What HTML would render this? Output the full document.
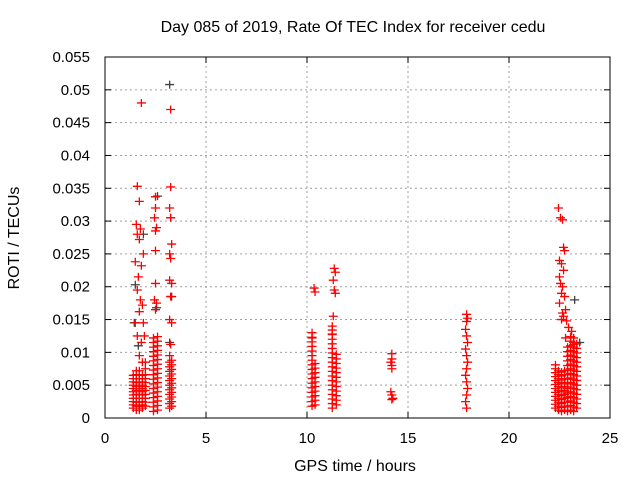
<!DOCTYPE html>
<html><head><meta charset="utf-8"><style>
body{margin:0;background:#fff}
svg{font-family:"Liberation Sans",sans-serif;font-size:15px}
</style></head><body>
<svg id="chart" width="640" height="480" xmlns="http://www.w3.org/2000/svg">
<rect width="640" height="480" fill="#fff"/>
<text x="353" y="32" text-anchor="middle" font-size="16">Day 085 of 2019, Rate Of TEC Index for receiver cedu</text>
<text x="355" y="471" text-anchor="middle" font-size="16">GPS time / hours</text>
<text transform="translate(19,238) rotate(-90)" text-anchor="middle" font-size="16">ROTI / TECUs</text>
<g id="grid"></g>
<g id="ticks"></g>
<g id="grey"></g>
<g id="pts"></g>
<rect x="105" y="57" width="505" height="361" fill="none" stroke="#000"/>
</svg>
<script>
const xTicks=[0,5,10,15,20,25];
const yTicks=[0,0.005,0.01,0.015,0.02,0.025,0.03,0.035,0.04,0.045,0.05,0.055];
const yTickLabels=["0","0.005","0.01","0.015","0.02","0.025","0.03","0.035","0.04","0.045","0.05","0.055"];
// red series: times and values
const rotiT=[
1.8,1.6,1.7,1.55,1.75,1.6,1.7,1.5,1.8,1.65,1.9,1.6,1.75,1.85,1.7,1.9,1.5,1.6,1.8,1.95,1.7,1.85,
2.5,2.5,2.45,2.55,2.5,2.5,2.5,2.45,2.55,2.5,
3.25,3.25,3.2,3.25,3.3,3.2,3.25,3.2,3.3,3.25,3.2,3.3,3.25,3.2,
10.35,10.4,
11.35,11.4,11.3,11.35,11.4,11.3,
14.2,14.2,14.15,14.2,14.2,14.15,14.2,14.25,14.2,
17.9,17.95,17.9,17.85,17.9,17.95,17.85,17.9,17.95,17.9,17.85,17.9,17.95,17.9,17.85,17.9,
22.45,22.55,22.65,22.7,22.5,22.75,22.6,22.5,22.7,22.55,22.65,22.6,22.75,22.5,22.8,22.65,22.7,22.6,22.85,22.95,23.1,22.8,
1.4,1.4,1.4,1.4,1.4,1.4,1.4,1.4,1.4,1.4,1.4,
1.55,1.55,1.55,1.55,1.55,1.55,1.55,1.55,1.55,1.55,1.55,
1.7,1.7,1.7,1.7,1.7,1.7,1.7,1.7,1.7,1.7,1.7,
1.85,1.85,1.85,1.85,1.85,1.85,1.85,1.85,1.85,1.85,1.85,
2.0,2.0,2.0,2.0,2.0,2.0,2.0,2.0,2.0,2.0,2.0,
2.4,2.4,2.4,2.4,2.4,2.4,2.4,2.4,2.4,2.4,2.4,2.4,2.4,2.4,2.4,2.4,2.4,
2.6,2.6,2.6,2.6,2.6,2.6,2.6,2.6,2.6,2.6,2.6,2.6,2.6,2.6,2.6,2.6,2.6,
3.2,3.2,3.2,3.2,3.2,3.2,3.2,3.2,3.2,3.2,3.2,
3.3,3.3,3.3,3.3,3.3,3.3,3.3,3.3,3.3,3.3,3.3,
10.25,10.25,10.25,10.25,10.25,10.25,10.25,10.25,10.25,10.25,10.25,10.25,10.25,10.25,10.25,10.25,10.25,10.25,
10.4,10.4,10.4,10.4,10.4,10.4,10.4,10.4,10.4,10.4,
11.25,11.25,11.25,11.25,11.25,11.25,11.25,11.25,11.25,11.25,11.25,11.25,11.25,11.25,11.25,11.25,11.25,11.25,11.25,11.25,
11.45,11.45,11.45,11.45,11.45,11.45,11.45,11.45,11.45,11.45,11.45,11.45,
22.3,22.3,22.3,22.3,22.3,22.3,22.3,22.3,22.3,22.3,22.3,22.3,
22.45,22.45,22.45,22.45,22.45,22.45,22.45,22.45,22.45,22.45,22.45,
22.6,22.6,22.6,22.6,22.6,22.6,22.6,22.6,22.6,22.6,22.6,
22.75,22.75,22.75,22.75,22.75,22.75,22.75,22.75,22.75,22.75,22.75,
22.9,22.9,22.9,22.9,22.9,22.9,22.9,22.9,22.9,22.9,22.9,22.9,22.9,22.9,22.9,
23.05,23.05,23.05,23.05,23.05,23.05,23.05,23.05,23.05,23.05,23.05,23.05,23.05,23.05,23.05,23.05,23.05,
23.2,23.2,23.2,23.2,23.2,23.2,23.2,23.2,23.2,23.2,23.2,23.2,23.2,23.2,23.2,23.2,23.2,23.2,
23.35,23.35,23.35,23.35,23.35,23.35,23.35,23.35,23.35,23.35,23.35,23.35,23.35,23.35,23.35
];
const rotiV=[
0.048,0.0353,0.033,0.0295,0.0288,0.028,0.0272,0.0238,0.0232,0.0215,0.025,0.0195,0.018,0.0172,0.0162,0.0145,0.0145,0.0125,0.0115,0.0125,0.0095,0.0085,
0.0337,0.032,0.0305,0.029,0.0285,0.0255,0.0205,0.018,0.0175,0.0165,
0.047,0.0352,0.032,0.0305,0.0265,0.025,0.0243,0.021,0.0205,0.0185,0.015,0.0145,0.0112,0.0095,
0.0198,0.0192,
0.0228,0.0222,0.021,0.0195,0.019,0.0155,
0.0098,0.009,0.0085,0.008,0.0075,0.004,0.0035,0.003,0.0028,
0.0158,0.0152,0.0147,0.0135,0.0125,0.0115,0.0105,0.0095,0.0085,0.0075,0.0065,0.0055,0.0045,0.0035,0.0025,0.0015,
0.032,0.0305,0.0302,0.026,0.024,0.0255,0.0235,0.0215,0.0225,0.0205,0.02,0.019,0.0185,0.0175,0.0165,0.016,0.0155,0.015,0.0148,0.0138,0.0132,0.0122,
0.0015,0.002,0.0025,0.003,0.0035,0.004,0.0045,0.005,0.0055,0.006,0.0065,
0.0012,0.0018,0.0024,0.003,0.0036,0.0042,0.0048,0.0054,0.006,0.0066,0.0072,
0.0012,0.0018,0.0024,0.003,0.0036,0.0042,0.0048,0.0054,0.006,0.0066,0.0072,
0.0015,0.002,0.0025,0.003,0.0035,0.004,0.0045,0.005,0.0055,0.006,0.0065,
0.0018,0.0024,0.003,0.0036,0.0042,0.0048,0.0054,0.006,0.0066,0.0075,0.0085,
0.001,0.0017,0.0024,0.0031,0.0038,0.0045,0.0052,0.0059,0.0066,0.0073,0.008,0.0087,0.0094,0.0101,0.0108,0.0115,0.0122,
0.0012,0.0019,0.0026,0.0033,0.004,0.0047,0.0054,0.0061,0.0068,0.0075,0.0082,0.0089,0.0096,0.0103,0.011,0.0117,0.0124,
0.0015,0.0022,0.0029,0.0036,0.0043,0.005,0.0057,0.0064,0.0071,0.0078,0.0085,
0.0018,0.0025,0.0032,0.0039,0.0046,0.0053,0.006,0.0067,0.0074,0.0081,0.0088,
0.0018,0.0025,0.0032,0.0039,0.0046,0.0053,0.006,0.0067,0.0074,0.0081,0.0088,0.0095,0.0102,0.0109,0.0116,0.0123,0.013,0.0122,
0.002,0.0027,0.0034,0.0041,0.0048,0.0055,0.0062,0.0069,0.0076,0.0083,
0.0015,0.0022,0.0029,0.0036,0.0043,0.005,0.0057,0.0064,0.0071,0.0078,0.0085,0.0092,0.0099,0.0106,0.0113,0.012,0.0127,0.0134,0.014,0.0128,
0.002,0.0027,0.0034,0.0041,0.0048,0.0055,0.0062,0.0069,0.0076,0.0083,0.009,0.0097,
0.0015,0.0021,0.0027,0.0033,0.0039,0.0045,0.0051,0.0057,0.0063,0.0069,0.0075,0.0081,
0.0012,0.0018,0.0024,0.003,0.0036,0.0042,0.0048,0.0054,0.006,0.0066,0.0072,
0.001,0.0016,0.0022,0.0028,0.0034,0.004,0.0046,0.0052,0.0058,0.0064,0.007,
0.0012,0.0018,0.0024,0.003,0.0036,0.0042,0.0048,0.0054,0.006,0.0066,0.0072,
0.001,0.0017,0.0024,0.0031,0.0038,0.0045,0.0052,0.0059,0.0066,0.0073,0.008,0.0087,0.0094,0.0101,0.0108,
0.0012,0.0019,0.0026,0.0033,0.004,0.0047,0.0054,0.0061,0.0068,0.0075,0.0082,0.0089,0.0096,0.0103,0.011,0.0117,0.0124,
0.001,0.0017,0.0024,0.0031,0.0038,0.0045,0.0052,0.0059,0.0066,0.0073,0.008,0.0087,0.0094,0.0101,0.0108,0.0115,0.0122,0.0112,
0.0015,0.0022,0.0029,0.0036,0.0043,0.005,0.0057,0.0064,0.0071,0.0078,0.0085,0.0092,0.0099,0.0106,0.0113
];
// grey (second) series
const greyT=[3.2,2.6,1.5,1.9,3.25,3.3,2.55,1.45,1.65,23.25,23.5,3.2];
const greyV=[0.0508,0.0338,0.0203,0.028,0.0305,0.0185,0.0168,0.0145,0.011,0.018,0.0115,0.0115];

const X0=105,X1=610,Y0=418,Y1=57;
const xs=t=>X0+(t-0)/(25-0)*(X1-X0);
const ys=v=>Y0-(v-0)/(0.055-0)*(Y0-Y1);
const NS="http://www.w3.org/2000/svg";
function mk(tag,attrs,parent){const e=document.createElementNS(NS,tag);for(const k in attrs)e.setAttribute(k,attrs[k]);parent.appendChild(e);return e;}
const grid=document.getElementById('grid'),ticks=document.getElementById('ticks');
xTicks.forEach((t,i)=>{const x=xs(t);
 if(i>0&&i<xTicks.length-1){const g=mk('line',{x1:x,x2:x,y1:Y0,y2:Y1,stroke:'#a0a0a0','stroke-dasharray':'2,3'},grid);
 
 }
 mk('line',{x1:x,x2:x,y1:Y0,y2:Y0-6,stroke:'#000'},ticks);mk('line',{x1:x,x2:x,y1:Y1,y2:Y1+6,stroke:'#000'},ticks);
 const l=mk('text',{x:x,y:Y0+25,'text-anchor':'middle'},ticks);l.textContent=String(t);
 
 });
yTicks.forEach((v,i)=>{const y=ys(v);
 if(i>0&&i<yTicks.length-1){const g=mk('line',{x1:X0,x2:X1,y1:y,y2:y,stroke:'#a0a0a0','stroke-dasharray':'2,3'},grid);
 
 }
 mk('line',{x1:X0,x2:X0+6,y1:y,y2:y,stroke:'#000'},ticks);mk('line',{x1:X1,x2:X1-6,y1:y,y2:y,stroke:'#000'},ticks);
 const l=mk('text',{x:X0-15,y:y+5,'text-anchor':'end'},ticks);l.textContent=yTickLabels[i];
 
 });
function plus(g,t,v,col,name){const x=xs(t),y=ys(v);
 const p=mk('path',{d:`M${x-4.5},${y}h9M${x},${y-4}v8`,stroke:col,'stroke-width':1.3},g);
 
 }
const gg=document.getElementById('grey');greyT.forEach((t,i)=>plus(gg,t,greyV[i],'#404040','grey-point'));
const pg=document.getElementById('pts');rotiT.forEach((t,i)=>plus(pg,t,rotiV[i],'#ff0000','roti-point'));
</script>
</body></html>
